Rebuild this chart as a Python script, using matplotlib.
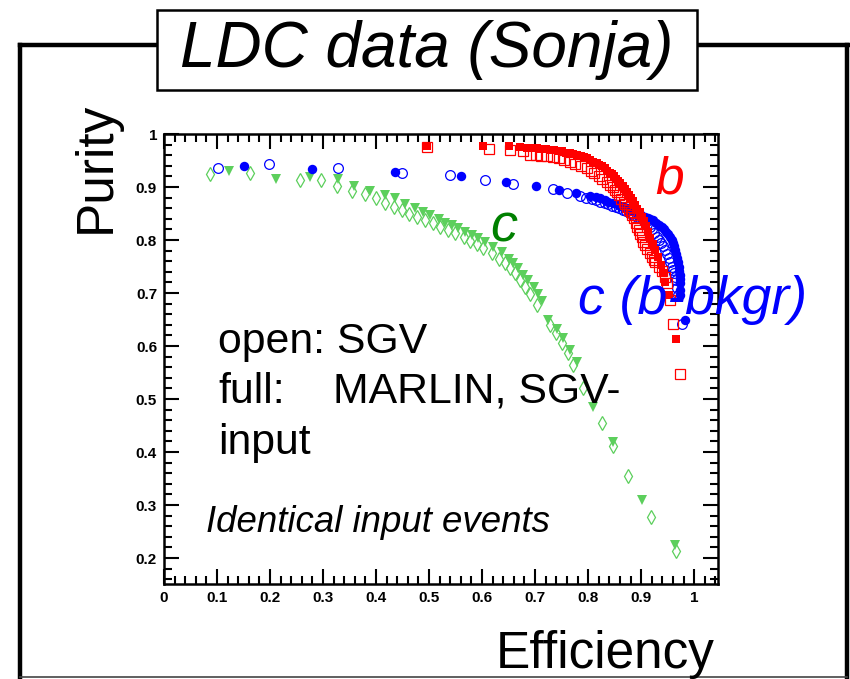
import matplotlib
matplotlib.use("Agg")
import matplotlib.pyplot as plt
from matplotlib.patches import Rectangle
from matplotlib.lines import Line2D
from matplotlib.ticker import MultipleLocator

plt.rcParams['font.family'] = ['Liberation Sans', 'DejaVu Sans']

# ---- data ----
c_sgv_x = [0.087, 0.162, 0.257, 0.296, 0.326, 0.354, 0.379, 0.399, 0.417, 0.433, 0.448, 0.463,
           0.477, 0.492, 0.508, 0.521, 0.536, 0.549, 0.565, 0.577, 0.590, 0.602, 0.618, 0.631,
           0.643, 0.653, 0.662, 0.672, 0.681, 0.691, 0.703, 0.728, 0.740, 0.750, 0.763, 0.772,
           0.791, 0.827, 0.846, 0.875, 0.918, 0.965]
c_sgv_y = [0.925, 0.927, 0.913, 0.914, 0.902, 0.892, 0.887, 0.879, 0.869, 0.863, 0.857, 0.850,
           0.844, 0.838, 0.832, 0.825, 0.819, 0.813, 0.805, 0.799, 0.792, 0.784, 0.775, 0.765,
           0.756, 0.747, 0.737, 0.725, 0.712, 0.699, 0.677, 0.640, 0.624, 0.605, 0.586, 0.564,
           0.520, 0.455, 0.411, 0.355, 0.278, 0.214]
c_mar_x = [0.123, 0.211, 0.275, 0.328, 0.358, 0.389, 0.417, 0.436, 0.455, 0.474, 0.489, 0.502,
           0.518, 0.530, 0.543, 0.555, 0.568, 0.581, 0.593, 0.606, 0.621, 0.637, 0.650, 0.659,
           0.668, 0.678, 0.687, 0.697, 0.706, 0.713, 0.725, 0.741, 0.752, 0.766, 0.779, 0.810,
           0.846, 0.901, 0.964]
c_mar_y = [0.931, 0.916, 0.918, 0.915, 0.902, 0.892, 0.885, 0.879, 0.868, 0.860, 0.853, 0.847,
           0.839, 0.833, 0.828, 0.822, 0.816, 0.809, 0.803, 0.797, 0.787, 0.778, 0.765, 0.756,
           0.747, 0.734, 0.725, 0.712, 0.699, 0.684, 0.649, 0.633, 0.616, 0.592, 0.569, 0.484,
           0.419, 0.309, 0.225]

bb_sgv_x = [0.101, 0.198, 0.328, 0.448, 0.540, 0.606, 0.659, 0.733, 0.760, 0.784, 0.796, 0.807,
            0.815, 0.823, 0.831, 0.838, 0.845, 0.852, 0.859, 0.866, 0.872, 0.879, 0.885, 0.892,
            0.898, 0.903, 0.907, 0.911, 0.916, 0.920, 0.925, 0.929, 0.933, 0.937, 0.941, 0.945,
            0.949, 0.952, 0.955, 0.958, 0.960, 0.962, 0.964, 0.966, 0.967, 0.970, 0.977]
bb_sgv_y = [0.935, 0.943, 0.935, 0.927, 0.923, 0.914, 0.906, 0.896, 0.889, 0.883, 0.880, 0.877,
            0.875, 0.872, 0.870, 0.867, 0.865, 0.862, 0.860, 0.857, 0.854, 0.851, 0.848, 0.844,
            0.841, 0.837, 0.834, 0.830, 0.825, 0.820, 0.813, 0.806, 0.800, 0.794, 0.788, 0.781,
            0.774, 0.766, 0.758, 0.750, 0.744, 0.737, 0.731, 0.725, 0.709, 0.697, 0.641]
bb_mar_x = [0.150, 0.280, 0.436, 0.560, 0.645, 0.701, 0.746, 0.777, 0.803, 0.815, 0.823, 0.831,
            0.838, 0.846, 0.854, 0.861, 0.867, 0.873, 0.879, 0.886, 0.892, 0.900, 0.908, 0.913,
            0.917, 0.922, 0.928, 0.934, 0.939, 0.943, 0.947, 0.951, 0.955, 0.958, 0.960, 0.962,
            0.964, 0.966, 0.968, 0.970, 0.971, 0.972, 0.973, 0.974, 0.974, 0.974, 0.974, 0.983]
bb_mar_y = [0.940, 0.934, 0.928, 0.920, 0.910, 0.902, 0.895, 0.889, 0.883, 0.881, 0.879, 0.875,
            0.872, 0.870, 0.867, 0.865, 0.863, 0.860, 0.857, 0.855, 0.852, 0.848, 0.844, 0.842,
            0.840, 0.837, 0.833, 0.829, 0.825, 0.821, 0.816, 0.811, 0.806, 0.800, 0.794, 0.788,
            0.781, 0.774, 0.766, 0.758, 0.750, 0.742, 0.734, 0.726, 0.718, 0.705, 0.696, 0.650]

b_sgv_x = [0.497, 0.613, 0.653, 0.677, 0.691, 0.702, 0.712, 0.723, 0.734, 0.745, 0.755, 0.765,
           0.776, 0.786, 0.797, 0.805, 0.812, 0.820, 0.827, 0.835, 0.842, 0.846, 0.850, 0.854,
           0.858, 0.862, 0.867, 0.870, 0.873, 0.877, 0.880, 0.883, 0.886, 0.890, 0.893, 0.896,
           0.898, 0.901, 0.904, 0.908, 0.912, 0.916, 0.920, 0.924, 0.927, 0.933, 0.939, 0.945,
           0.948, 0.955, 0.961, 0.974]
b_sgv_y = [0.976, 0.971, 0.969, 0.968, 0.960, 0.960, 0.959, 0.958, 0.957, 0.954, 0.951, 0.948,
           0.944, 0.940, 0.935, 0.931, 0.926, 0.921, 0.916, 0.910, 0.904, 0.900, 0.895, 0.890,
           0.884, 0.878, 0.872, 0.867, 0.862, 0.857, 0.852, 0.847, 0.841, 0.833, 0.825, 0.819,
           0.812, 0.805, 0.797, 0.790, 0.783, 0.776, 0.768, 0.763, 0.759, 0.750, 0.741, 0.731,
           0.718, 0.687, 0.641, 0.548]
b_mar_x = [0.496, 0.601, 0.650, 0.672, 0.684, 0.694, 0.703, 0.712, 0.720, 0.728, 0.736, 0.744,
           0.751, 0.758, 0.765, 0.772, 0.779, 0.786, 0.792, 0.798, 0.804, 0.810, 0.816, 0.821,
           0.826, 0.831, 0.836, 0.841, 0.845, 0.849, 0.853, 0.857, 0.861, 0.865, 0.869, 0.873,
           0.877, 0.881, 0.885, 0.889, 0.893, 0.897, 0.901, 0.905, 0.909, 0.913, 0.917, 0.922,
           0.927, 0.932, 0.937, 0.941, 0.945, 0.952, 0.965]
b_mar_y = [0.977, 0.977, 0.977, 0.975, 0.974, 0.973, 0.973, 0.972, 0.971, 0.970, 0.969, 0.968,
           0.967, 0.965, 0.964, 0.962, 0.961, 0.958, 0.956, 0.954, 0.951, 0.948, 0.945, 0.942,
           0.939, 0.935, 0.931, 0.927, 0.924, 0.920, 0.916, 0.912, 0.907, 0.902, 0.897, 0.891,
           0.885, 0.879, 0.873, 0.866, 0.859, 0.852, 0.844, 0.836, 0.826, 0.815, 0.803, 0.792,
           0.782, 0.768, 0.752, 0.738, 0.720, 0.696, 0.613]

x_ticks = [0, 0.1, 0.2, 0.3, 0.4, 0.5, 0.6, 0.7, 0.8, 0.9, 1.0]
x_labels = ["0", "0.1", "0.2", "0.3", "0.4", "0.5", "0.6", "0.7", "0.8", "0.9", "1"]
y_ticks = [0.2, 0.3, 0.4, 0.5, 0.6, 0.7, 0.8, 0.9, 1.0]
y_labels = ["0.2", "0.3", "0.4", "0.5", "0.6", "0.7", "0.8", "0.9", "1"]

W, H = 850, 679
fig = plt.figure(figsize=(8.5, 6.79), dpi=100)

def fx(x):
    return x / W

def fy(y):
    return 1 - y / H

# outer frame
lw_frame = 3.2
fig.add_artist(Line2D([fx(20), fx(20)], [fy(45), fy(679)], color='black', lw=lw_frame,
                      transform=fig.transFigure))
fig.add_artist(Line2D([fx(20), fx(848)], [fy(45), fy(45)], color='black', lw=lw_frame,
                      transform=fig.transFigure))
fig.add_artist(Line2D([fx(847), fx(847)], [fy(45), fy(679)], color='black', lw=lw_frame,
                      transform=fig.transFigure))
fig.add_artist(Line2D([fx(20), fx(847)], [fy(677), fy(677)], color='#444444', lw=1.2,
                      transform=fig.transFigure))

# title box
fig.add_artist(Rectangle((fx(157), fy(90)), fx(697) - fx(157), fy(10) - fy(90),
                         transform=fig.transFigure, facecolor='white', edgecolor='black',
                         lw=1.8, zorder=5))
fig.text(fx(427), fy(50), "LDC data (Sonja)", fontsize=46, style='italic',
         ha='center', va='center', zorder=6)

ax = fig.add_axes([fx(164), fy(584), fx(718) - fx(164), fy(134) - fy(584)])
ax.set_xlim(0, 1.045)
ax.set_ylim(0.151, 1.0)

green = '#5ccf5c'
ax.plot(c_sgv_x, c_sgv_y, linestyle='none', marker='d', markersize=7, markerfacecolor='none',
        markeredgecolor=green, markeredgewidth=0.9)
ax.plot(c_mar_x, c_mar_y, linestyle='none', marker='v', markersize=7.5, color=green,
        markeredgewidth=0)
ax.plot(bb_sgv_x, bb_sgv_y, linestyle='none', marker='o', markersize=7, markerfacecolor='none',
        markeredgecolor='#0000ff', markeredgewidth=0.9)
ax.plot(bb_mar_x, bb_mar_y, linestyle='none', marker='o', markersize=6.8, color='#0000ff',
        markeredgewidth=0)
ax.plot(b_sgv_x, b_sgv_y, linestyle='none', marker='s', markersize=6.6, markerfacecolor='none',
        markeredgecolor='#ff0000', markeredgewidth=0.9)
ax.plot(b_mar_x, b_mar_y, linestyle='none', marker='s', markersize=6.4, color='#ff0000',
        markeredgewidth=0)

ax.set_xticks(x_ticks)
ax.set_xticklabels(x_labels)
ax.set_yticks(y_ticks)
ax.set_yticklabels(y_labels)
ax.xaxis.set_minor_locator(MultipleLocator(0.02))
ax.yaxis.set_minor_locator(MultipleLocator(0.02))
ax.tick_params(which='both', direction='in', top=True, right=True, width=1.5)
ax.tick_params(which='major', length=11, pad=5)
ax.tick_params(which='minor', length=6)
for lab in ax.get_xticklabels() + ax.get_yticklabels():
    lab.set_fontweight('bold')
    lab.set_fontsize(11)
for s in ax.spines.values():
    s.set_linewidth(1.8)

# axis titles
fig.text(fx(96), fy(167), "Purity", rotation=90, fontsize=37, ha='center', va='center')
fig.text(fx(715), fy(668), "Efficiency", fontsize=37, ha='right', va='baseline')

# annotations
fig.text(fx(218), fy(353), "open: SGV", fontsize=30.8, va='baseline')
fig.text(fx(218), fy(403), "full:", fontsize=30.8, va='baseline')
fig.text(fx(333), fy(403), "MARLIN, SGV-", fontsize=30.8, va='baseline')
fig.text(fx(218), fy(454), "input", fontsize=30.8, va='baseline')
fig.text(fx(206), fy(532), "Identical input events", fontsize=26.4, style='italic', va='baseline')

fig.text(fx(655), fy(193), "b", fontsize=37, style='italic', color='#ff0000', va='baseline')
fig.text(fx(490), fy(241), "c", fontsize=39, style='italic', color='#008000', va='baseline')
fig.text(fx(578), fy(314), "c (b-bkgr)", fontsize=38.5, style='italic', color='#0000ff',
         va='baseline')

fig.savefig("out.png", dpi=100)
